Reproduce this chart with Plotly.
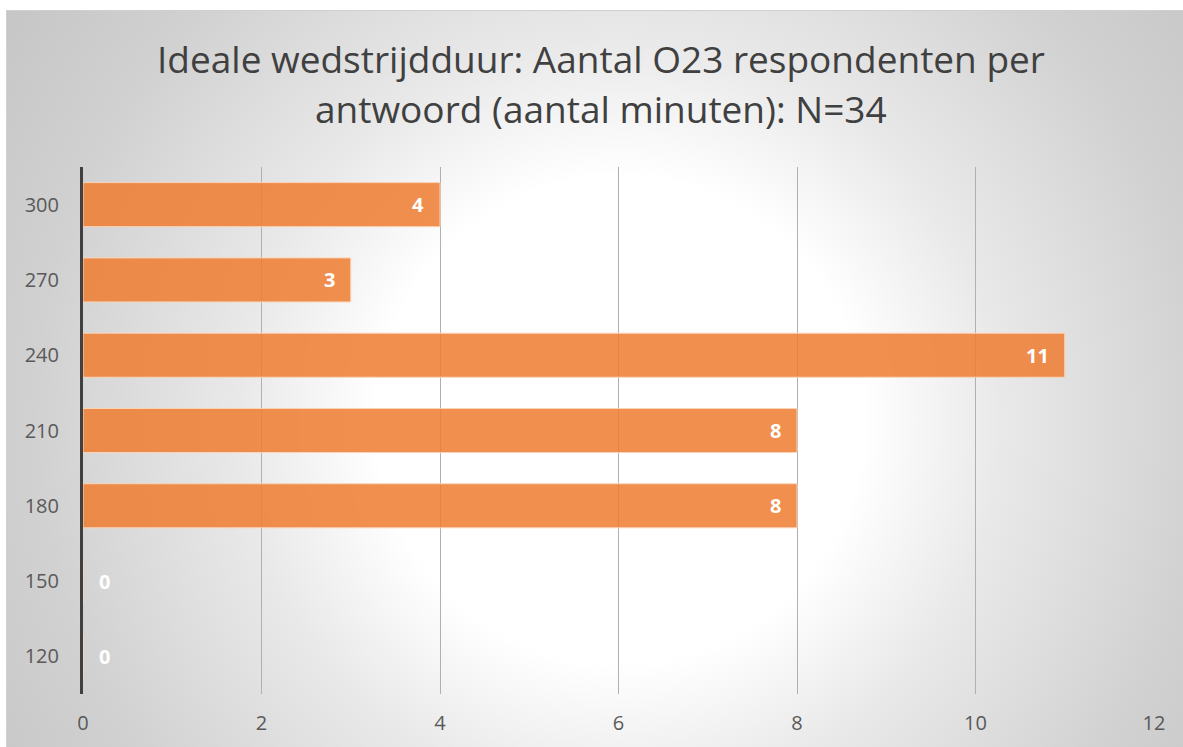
import base64
import plotly.graph_objects as go

# ---- data ----
categories = ["120", "150", "180", "210", "240", "270", "300"]
counts = [0, 0, 8, 8, 11, 3, 4]
x_ticks = [0, 2, 4, 6, 8, 10, 12]
title_lines = ["Ideale wedstrijdduur: Aantal O23 respondenten per",
               "antwoord (aantal minuten): N=34"]

W, H = 1183, 747
ML, MR, MT, MB = 83, 29, 167, 53
PW, PH = W - ML - MR, H - MT - MB

# radial gradient background (chart area box)
svg = f'''<svg xmlns="http://www.w3.org/2000/svg" width="{W}" height="{H}" viewBox="0 0 {W} {H}">
<defs><radialGradient id="g" gradientUnits="userSpaceOnUse" cx="620" cy="420" r="760">
<stop offset="0" stop-color="#ffffff"/>
<stop offset="0.32" stop-color="#ffffff"/>
<stop offset="0.5" stop-color="#e9e9e9"/>
<stop offset="0.77" stop-color="#d1d1d1"/>
<stop offset="0.97" stop-color="#c6c6c6"/>
<stop offset="1" stop-color="#c5c5c5"/>
</radialGradient></defs>
<rect x="0" y="0" width="{W}" height="{H}" fill="#ffffff"/>
<rect x="6.5" y="10.5" width="{W}" height="{H}" fill="url(#g)" stroke="#d0d0d0" stroke-width="1"/>
</svg>'''
src = "data:image/svg+xml;base64," + base64.b64encode(svg.encode()).decode()

fig = go.Figure()
fig.add_trace(go.Bar(
    x=counts, y=categories, orientation="h",
    marker=dict(color="rgba(237,125,49,0.86)",
                line=dict(color="rgba(250,212,185,1)", width=1)),
    hoverinfo="skip",
))

label_font = dict(family="Open Sans", size=20, color="white", weight="bold")
annotations = []
for i, v in enumerate(counts):
    if v > 0:
        annotations.append(dict(x=v, y=i, xref="x", yref="y", text=str(v),
                                showarrow=False, xanchor="right", xshift=-14,
                                yanchor="middle", font=label_font))
    else:
        annotations.append(dict(x=v, y=i, xref="x", yref="y", text=str(v),
                                showarrow=False, xanchor="left", xshift=14,
                                yanchor="middle", font=label_font))

# title lines centered at x=601
title_cx = (601 - ML) / PW
for line, yfig in zip(title_lines, [58, 109]):
    annotations.append(dict(text=line, x=title_cx, xref="paper",
                            y=1 + (MT - yfig) / PH, yref="paper",
                            xanchor="center", yanchor="middle", showarrow=False,
                            font=dict(family="Open Sans", size=37, color="#404040")))

fig.update_layout(
    width=W, height=H,
    margin=dict(l=ML, r=MR, t=MT, b=MB, pad=0),
    paper_bgcolor="#d2d2d2",
    plot_bgcolor="rgba(0,0,0,0)",
    bargap=0.415,
    showlegend=False,
    font=dict(family="Open Sans", color="#595959"),
    images=[dict(source=src, xref="paper", yref="paper",
                 x=-ML / PW, y=1 + MT / PH, sizex=W / PW, sizey=H / PH,
                 xanchor="left", yanchor="top", sizing="stretch", layer="below")],
    annotations=annotations,
    xaxis=dict(range=[0, 12], tickvals=x_ticks, showgrid=True, gridcolor="#b0b0b0",
               gridwidth=1, zeroline=False, showline=False,
               tickfont=dict(family="Open Sans", size=20, color="#595959"),
               ticklabelstandoff=15, fixedrange=True),
    yaxis=dict(type="category", categoryorder="array", categoryarray=categories,
               range=[-0.5, 6.5], showgrid=False, zeroline=False,
               showline=True, linecolor="#404040", linewidth=3,
               tickfont=dict(family="Open Sans", size=20, color="#595959"),
               ticklabelstandoff=17, fixedrange=True),
)

fig.write_html(
    "out.html",
    config={"displayModeBar": False},
    post_script="document.body.style.margin='0';document.body.style.overflow='hidden';",
)
